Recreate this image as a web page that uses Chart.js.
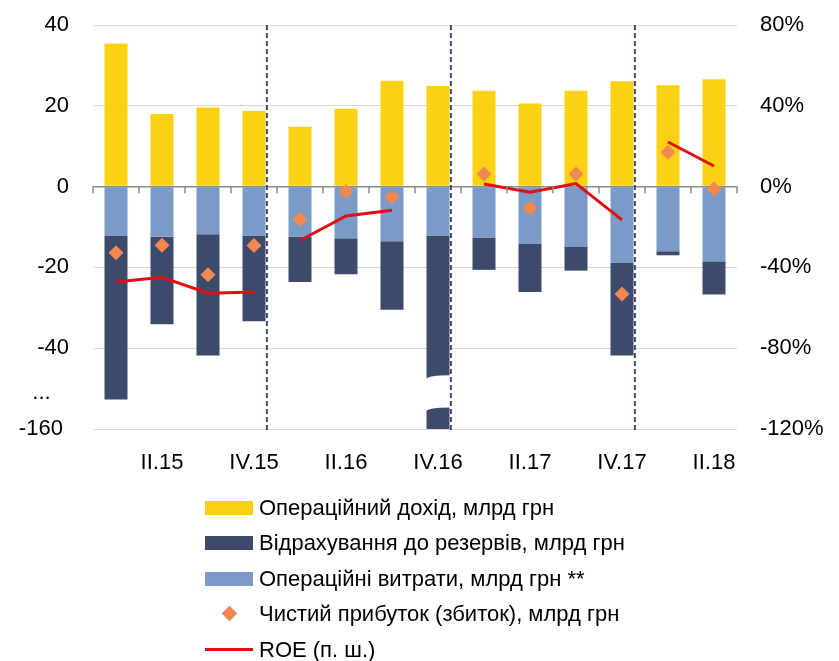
<!DOCTYPE html>
<html>
<head>
<meta charset="utf-8">
<script src="https://cdn.jsdelivr.net/npm/chart.js@4"></script>
<style>
  body { margin: 0; background: #fff; }
  #wrap { position: relative; width: 839px; height: 661px; }
  #legend { position: absolute; left: 205px; top: 490px; font: 22px "Liberation Sans", Arial, sans-serif; color: #000; }
  .row { display: flex; align-items: center; height: 35.5px; white-space: nowrap; }
  .mk { width: 48px; height: 14px; margin-right: 6px; position: relative; flex: none; }
</style>
</head>
<body>
<div id="wrap">
  <canvas id="myChart" width="839" height="661"></canvas>
  <div id="legend"></div>
</div>
<script>
// Квартали
var labels = ["I.15", "II.15", "III.15", "IV.15", "I.16", "II.16", "III.16", "IV.16", "I.17", "II.17", "III.17", "IV.17", "I.18", "II.18"];

// Дані, млрд грн
var opIncome = [35.4, 18.0, 19.6, 18.7, 14.8, 19.3, 26.2, 24.9, 23.7, 20.6, 23.7, 26.1, 25.1, 26.6];
var provisions = [-40.6, -21.7, -30.0, -21.2, -11.2, -8.9, -17.0, -148, -8.0, -11.9, -6.0, -22.9, -1.0, -8.2];
var opExpenses = [-12.1, -12.4, -11.8, -12.1, -12.4, -12.8, -13.5, -12.1, -12.6, -14.2, -14.8, -18.9, -16.0, -18.5];
var netProfit = [-16.4, -14.5, -21.8, -14.6, -8.1, -1.2, -2.6, null, 3.1, -5.3, 3.1, -26.6, 8.5, -0.6];

// ROE, %
var roe = [-47.2, -44.9, -52.8, -52.2, -26.7, -14.5, -11.7, null, 1.3, -2.8, 1.5, -16.5, 22.1, 10.2];

// Поділки лівої осі (розрив осі внизу)
var leftTicks = [40, 20, 0, -20, -40, -51, -60];
var leftTickText = { "-51": "...   ", "-60": "-160 " };
var yearEnds = [3, 7, 11];

var red = "#e01010";

Chart.defaults.font.family = "'Liberation Sans', Arial, sans-serif";
Chart.defaults.font.size = 22;
Chart.defaults.color = "#000";

// Риски на нульовій лінії, розрив стовпця, пунктирні лінії між роками
var decor = {
  id: "decor",
  afterDatasetsDraw: function (chart) {
    var ctx = chart.ctx, a = chart.chartArea, x = chart.scales.x, y = chart.scales.y;
    var step = x.width / labels.length;
    var y0 = y.getPixelForValue(0);
    ctx.save();
    ctx.strokeStyle = "#8c8c8c";
    ctx.lineWidth = 1.5;
    ctx.beginPath();
    for (var i = 0; i <= labels.length; i++) {
      var px = a.left + i * step;
      ctx.moveTo(px, y0);
      ctx.lineTo(px, y0 + 7);
    }
    ctx.stroke();

    // розрив великого стовпця IV.16
    var bar = chart.getDatasetMeta(1).data[7];
    var l = bar.x - bar.width / 2 - 1, r = bar.x + bar.width / 2 + 1;
    var t = y.getPixelForValue(-46.7), b = y.getPixelForValue(-54.7);
    ctx.fillStyle = "#fff";
    ctx.beginPath();
    ctx.moveTo(l, t + 4);
    ctx.quadraticCurveTo(l + 3, t, r, t);
    ctx.lineTo(r, b);
    ctx.quadraticCurveTo(l + 3, b, l, b + 4);
    ctx.closePath();
    ctx.fill();

    ctx.strokeStyle = "#3d4a6b";
    ctx.lineWidth = 2;
    ctx.setLineDash([5, 3]);
    yearEnds.forEach(function (i) {
      var px = x.getPixelForValue(i) + 0.28 * step;
      ctx.beginPath();
      ctx.moveTo(px, a.top);
      ctx.lineTo(px, a.bottom + 3);
      ctx.stroke();
    });
    ctx.restore();
  }
};

// вертикальні осі: без зайвого відступу зверху/знизу
function trimPad(s) { s.paddingTop = 13; s.paddingBottom = 13; }

var data = {
  labels: labels,
  datasets: [
    { type: "bar", label: "Операційний дохід, млрд грн", data: opIncome, backgroundColor: "#fad114", order: 2 },
    { type: "bar", label: "Відрахування до резервів, млрд грн", data: provisions, backgroundColor: "#3d4a6b", order: 3 },
    { type: "bar", label: "Операційні витрати, млрд грн **", data: opExpenses, backgroundColor: "#7a9ac8", order: 2 },
    {
      type: "line", label: "Чистий прибуток (збиток), млрд грн", data: netProfit, showLine: false,
      pointStyle: "rectRot", pointRadius: 7.5, backgroundColor: "#f3874f", borderColor: "#f3874f", borderWidth: 0,
      stack: "np", order: 1
    },
    {
      type: "line", label: "ROE (п. ш.)", data: roe, yAxisID: "y2", borderColor: red, borderWidth: 3,
      pointRadius: 0, spanGaps: false, order: 0,
      segment: {
        borderColor: function (c) { return yearEnds.indexOf(c.p0DataIndex) >= 0 ? "rgba(0,0,0,0)" : red; }
      }
    }
  ]
};

var options = {
  responsive: false,
  animation: false,
  layout: { padding: { top: 25, left: 0, right: 0, bottom: 0 } },
  datasets: { bar: { barPercentage: 0.5, categoryPercentage: 1.0 } },
  plugins: { legend: { display: false }, tooltip: { enabled: false } },
  scales: {
    x: {
      stacked: true,
      grid: { display: false, drawTicks: false },
      border: { display: false },
      ticks: {
        autoSkip: false, maxRotation: 0, padding: 21,
        callback: function (v, i) { return i % 2 === 1 ? labels[i] : ""; }
      },
      afterFit: function (s) { s.height = 232; }
    },
    y: {
      stacked: true, min: -60, max: 40,
      afterBuildTicks: function (s) { s.ticks = leftTicks.map(function (v) { return { value: v }; }); },
      ticks: {
        padding: 24,
        callback: function (v) { return leftTickText[v] !== undefined ? leftTickText[v] : v; }
      },
      grid: {
        drawTicks: false,
        color: function (c) {
          if (c.tick.value === 0) return "#8c8c8c";
          if (c.tick.value === -51) return "rgba(0,0,0,0)";
          return "#d9d9d9";
        },
        lineWidth: function (c) { return c.tick.value === 0 ? 1.5 : 1; }
      },
      border: { display: false },
      afterFit: function (s) { s.width = 93; trimPad(s); }
    },
    y2: {
      position: "right", min: -120, max: 80,
      ticks: { stepSize: 40, padding: 23, callback: function (v) { return v + "%"; } },
      grid: { drawOnChartArea: false, drawTicks: false },
      border: { display: false },
      afterFit: function (s) { s.width = 102; trimPad(s); }
    }
  }
};

var myChart = new Chart(document.getElementById("myChart").getContext("2d"), {
  data: data,
  options: options,
  plugins: [decor]
});

// Легенда: по одному пункту в рядку
var legend = document.getElementById("legend");
data.datasets.forEach(function (ds, i) {
  var row = document.createElement("div");
  row.className = "row";
  var mk = document.createElement("span");
  mk.className = "mk";
  if (ds.type === "bar") {
    mk.style.background = ds.backgroundColor;
  } else if (ds.showLine === false) {
    var d = document.createElement("span");
    d.style.cssText = "position:absolute;left:19px;top:1px;width:11px;height:11px;transform:rotate(45deg);background:" + ds.backgroundColor;
    mk.appendChild(d);
  } else {
    var ln = document.createElement("span");
    ln.style.cssText = "position:absolute;left:0;top:5px;width:48px;height:3px;background:" + red;
    mk.appendChild(ln);
  }
  row.appendChild(mk);
  row.appendChild(document.createTextNode(ds.label));
  legend.appendChild(row);
});
</script>
</body>
</html>
